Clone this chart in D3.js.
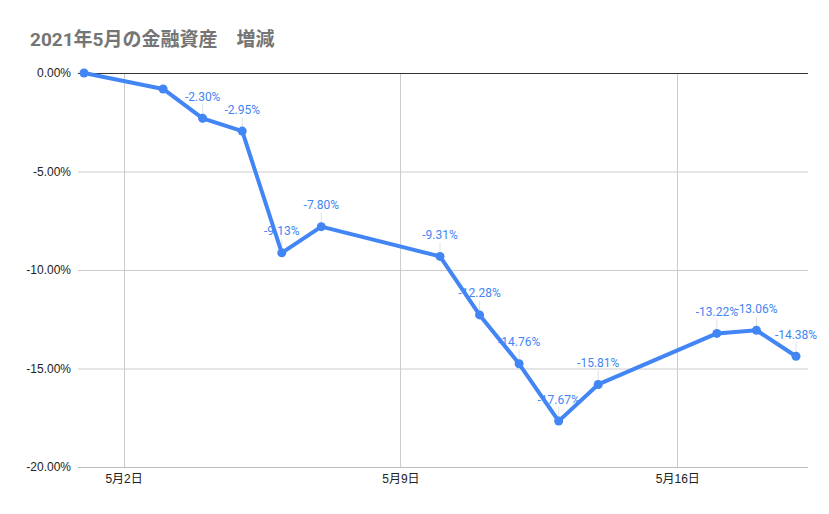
<!DOCTYPE html>
<html><head><meta charset="utf-8">
<script src="https://cdn.jsdelivr.net/npm/d3@7"></script>
<style>body{margin:0;background:#fff}svg{display:block}</style>
</head><body>
<svg id="c" width="829" height="514"></svg>
<script>
const title = "2021年5月の金融資産　増減";
const days = [1,3,4,5,6,7,10,11,12,13,14,17,18,19];
const values = [0, -0.81, -2.30, -2.95, -9.13, -7.80, -9.31, -12.28, -14.76, -17.67, -15.81, -13.22, -13.06, -14.38];
const showLabel = [false,false,true,true,true,true,true,true,true,true,true,true,true,true];
const yTicks = [0,-5,-10,-15,-20];
const xTickDays = [2,9,16];
const xTickLabels = ["5月2日","5月9日","5月16日"];

(function(){
const svg = d3.select("#c");
const pL = 78, pR = 808, pT = 73, pB = 467;
const x = d3.scaleLinear().domain([1,19]).range([84,796]);
const y = d3.scaleLinear().domain([0,-20]).range([pT,pB]);
const font = "Roboto, 'Noto Sans CJK JP', sans-serif";
const axisFont = "'Liberation Sans', Arial, 'Noto Sans CJK JP', sans-serif";
const pct = v => d3.format(".2f")(v).replace("\u2212","-") + "%";

svg.append("text").attr("x",30).attr("y",46).text(title)
  .attr("font-family",font).attr("font-weight","bold").attr("font-size",19).attr("fill","#757575");

// grid
const g = svg.append("g");
g.selectAll(".hg").data(yTicks.filter(d=>d!==0 && d!==-20)).enter().append("line")
  .attr("x1",pL).attr("x2",pR).attr("y1",d=>y(d)+0.5).attr("y2",d=>y(d)+0.5).attr("stroke","#cccccc");
g.selectAll(".vg").data(xTickDays).enter().append("line")
  .attr("x1",d=>Math.round(x(d))+0.5).attr("x2",d=>Math.round(x(d))+0.5).attr("y1",pT).attr("y2",pB).attr("stroke","#cccccc");
g.append("line").attr("x1",pL).attr("x2",pR).attr("y1",y(-20)+0.5).attr("y2",y(-20)+0.5).attr("stroke","#bdbdbd");
g.append("line").attr("x1",pL).attr("x2",pR).attr("y1",y(0)+0.5).attr("y2",y(0)+0.5).attr("stroke","#333333");

// y axis labels
const yAxis = d3.axisLeft(y).tickValues(yTicks).tickSize(0).tickPadding(0).tickFormat(pct);
svg.append("g").attr("transform",`translate(${pL-7},0)`).call(yAxis)
  .call(a=>a.select(".domain").remove())
  .selectAll("text").attr("font-family",axisFont).attr("font-size",12).attr("fill","#222");

// x axis labels
const xAxis = d3.axisBottom(x).tickValues(xTickDays).tickSize(0).tickPadding(0)
  .tickFormat((d,i)=>xTickLabels[i]);
svg.append("g").attr("transform",`translate(0,${pB+7})`).call(xAxis)
  .call(a=>a.select(".domain").remove())
  .selectAll("text").attr("font-family",axisFont).attr("font-size",12).attr("fill","#222");

const data = days.map((d,i)=>({d, v:values[i], s:showLabel[i]}));

// labels with leader lines
const lab = svg.append("g");
lab.selectAll("line").data(data.filter(p=>p.s)).enter().append("line")
  .attr("x1",p=>x(p.d)).attr("x2",p=>x(p.d))
  .attr("y1",p=>y(p.v)-14).attr("y2",p=>y(p.v)-3).attr("stroke","#e0e0e0");
lab.selectAll("text").data(data.filter(p=>p.s)).enter().append("text")
  .attr("x",p=>x(p.d)).attr("y",p=>y(p.v)-17.5).attr("text-anchor","middle")
  .attr("font-family",font).attr("font-size",12).attr("fill","#4285f4")
  .text(p=>pct(p.v));

// line
svg.append("path").datum(data)
  .attr("d",d3.line().x(p=>x(p.d)).y(p=>y(p.v)))
  .attr("fill","none").attr("stroke","#4285f4").attr("stroke-width",4).attr("stroke-linejoin","round");
svg.selectAll(".pt").data(data).enter().append("circle")
  .attr("cx",p=>x(p.d)).attr("cy",p=>y(p.v)).attr("r",4.5).attr("fill","#4285f4");
})();
</script>
</body></html>
